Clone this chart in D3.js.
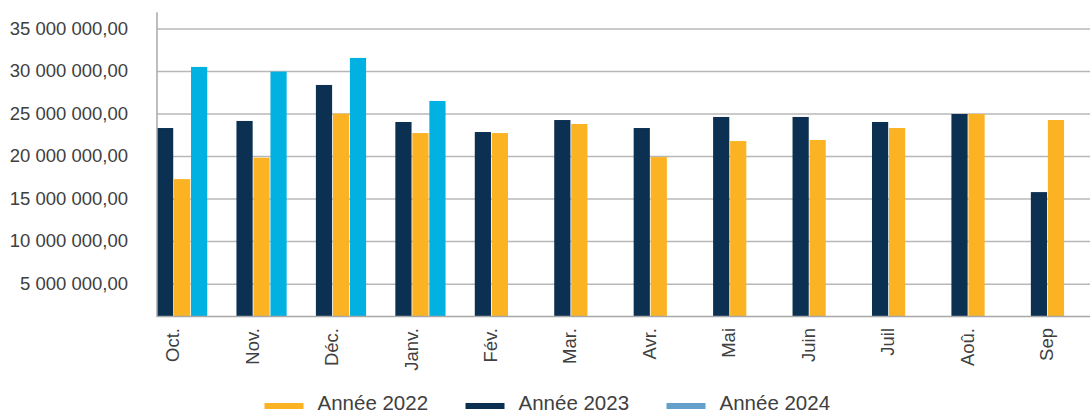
<!DOCTYPE html>
<html>
<head>
<meta charset="utf-8">
<script src="https://cdn.jsdelivr.net/npm/d3@7"></script>
<style>
  body { margin: 0; background: #fff; }
  text { font-family: "Liberation Sans", Arial, sans-serif; fill: #404040; }
</style>
</head>
<body>
<div id="chart"></div>
<script>
// Data
const months = ["Oct.", "Nov.", "Déc.", "Janv.", "Fév.", "Mar.", "Avr.", "Mai", "Juin", "Juil", "Aoû.", "Sep"];
const values2023 = [23.35, 24.18, 28.41, 24.06, 22.88, 24.29, 23.35, 24.65, 24.65, 24.06, 25.0, 15.82].map(v => v * 1e6);
const values2022 = [17.35, 19.86, 25.04, 22.76, 22.76, 23.82, 19.94, 21.82, 21.94, 23.35, 25.0, 24.29].map(v => v * 1e6);
const values2024 = [30.53, 29.98, 31.59, 26.53, null, null, null, null, null, null, null, null].map(v => v === null ? null : v * 1e6);
const yTicks = [5e6, 10e6, 15e6, 20e6, 25e6, 30e6, 35e6];

const series = [
    { key: "2023", label: "Année 2023", values: values2023, color: "#0b3052" },
    { key: "2022", label: "Année 2022", values: values2022, color: "#fbb323" },
    { key: "2024", label: "Année 2024", values: values2024, color: "#00b1e2", legendColor: "#64a0cc" }
];
const legendOrder = ["2022", "2023", "2024"];

const WIDTH = 1090;
const HEIGHT = 414;
const PLOT_LEFT = 157;

const fr = d3.formatLocale({ decimal: ",", thousands: " ", grouping: [3], currency: ["", ""] });
const fmt = fr.format(",.2f");

const svg = d3.select("#chart")
    .append("svg")
    .attr("width", WIDTH)
    .attr("height", HEIGHT);

// Scales
const y = d3.scaleLinear()
    .domain([1.2e6, 36.95e6])
    .range([316.5, 12.3]);

const x = d3.scaleBand()
    .domain(months)
    .range([134.3, 134.3 + 12 * 79.44])
    .padding(0);

const x1 = d3.scaleBand()
    .domain(series.map(s => s.key))
    .range([-17, 34])
    .padding(0);

// Gridlines
svg.append("g")
    .selectAll("line")
    .data(yTicks)
    .enter()
    .append("line")
    .attr("x1", PLOT_LEFT)
    .attr("x2", WIDTH)
    .attr("y1", d => y(d))
    .attr("y2", d => y(d))
    .attr("stroke", "#b8b8b8")
    .attr("stroke-width", 1.5);

// Y axis labels
const yAxis = svg.append("g")
    .attr("transform", "translate(128,0)")
    .call(d3.axisLeft(y).tickValues(yTicks).tickSize(0).tickPadding(0).tickFormat(fmt));
yAxis.select(".domain").remove();
yAxis.selectAll("text")
    .attr("dy", "0.28em")
    .style("font-size", "18.5px")
    .style("font-family", "'Liberation Sans', Arial, sans-serif")
    .style("fill", "#404040");

// Bars
const groups = svg.append("g")
    .selectAll("g")
    .data(months)
    .enter()
    .append("g")
    .attr("transform", d => `translate(${x(d) + x.bandwidth() / 2},0)`);

groups.selectAll("rect")
    .data((m, i) => series
        .filter(s => s.values[i] !== null)
        .map(s => ({ key: s.key, value: s.values[i], color: s.color })))
    .enter()
    .append("rect")
    .attr("x", d => x1(d.key))
    .attr("width", x1.bandwidth() - 0.8)
    .attr("y", d => y(d.value))
    .attr("height", d => y.range()[0] - y(d.value))
    .attr("fill", d => d.color);

// Axis lines
svg.append("line")
    .attr("x1", PLOT_LEFT).attr("x2", WIDTH)
    .attr("y1", 316.5).attr("y2", 316.5)
    .attr("stroke", "#a8a8a8")
    .attr("stroke-width", 1.5);

svg.append("line")
    .attr("x1", PLOT_LEFT).attr("x2", PLOT_LEFT)
    .attr("y1", 12.3).attr("y2", 317)
    .attr("stroke", "#a8a8a8")
    .attr("stroke-width", 1.5);

// X labels (rotated)
svg.append("g")
    .selectAll("text")
    .data(months)
    .enter()
    .append("text")
    .attr("transform", d => `translate(${x(d) + x.bandwidth() / 2 - 1.5},328) rotate(-90)`)
    .attr("text-anchor", "end")
    .attr("dy", "0.36em")
    .style("font-size", "18.5px")
    .text(d => d);

// Legend
const legend = svg.append("g")
    .selectAll("g")
    .data(legendOrder.map(k => series.find(s => s.key === k)))
    .enter()
    .append("g")
    .attr("transform", (d, i) => `translate(${264.5 + i * 201},406)`);

legend.append("rect")
    .attr("x", 0)
    .attr("y", -3)
    .attr("width", 39)
    .attr("height", 6)
    .attr("fill", d => d.legendColor || d.color);

legend.append("text")
    .attr("x", 53)
    .attr("y", 3.5)
    .style("font-size", "20.5px")
    .text(d => d.label);
</script>
</body>
</html>
